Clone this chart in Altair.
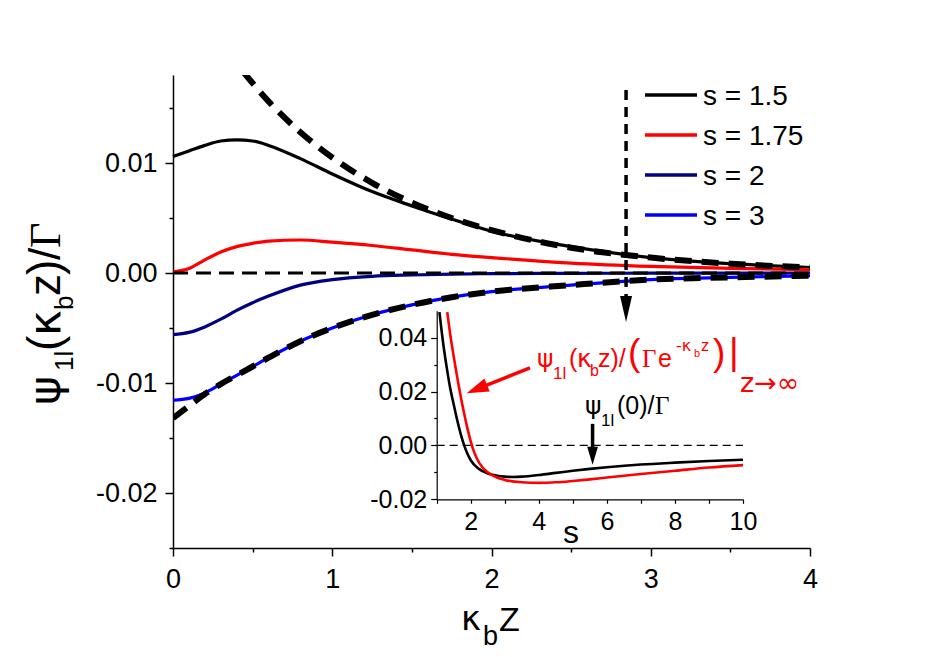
import altair as alt
import pandas as pd

# ---------------- main panel data ----------------
X_MAIN = [0, 0.1, 0.2, 0.3, 0.4, 0.5, 0.6, 0.8, 1.0, 1.25, 1.5, 1.75, 2.0, 2.5, 3.0, 3.5, 4.0]
Y_S150 = [0.0106, 0.0111, 0.0116, 0.0120, 0.0121, 0.0120, 0.0116, 0.0104, 0.0090, 0.0074, 0.0061, 0.0049, 0.0038, 0.0024, 0.0014, 0.00085, 0.0005]
Y_S175 = [0.0001, 0.0004, 0.0012, 0.0019, 0.0024, 0.0027, 0.0029, 0.0030, 0.0028, 0.0025, 0.0021, 0.0017, 0.0014, 0.0009, 0.0006, 0.00042, 0.0003]
Y_S200 = [-0.0056, -0.0054, -0.0049, -0.0042, -0.0034, -0.0027, -0.0021, -0.0011, -0.0006, -0.0003, -0.00018, -0.0001, -0.00006, -0.00003, -0.00002, -0.00001, 0.0]
Y_S300 = [-0.01157, -0.0114, -0.0109, -0.0101, -0.0093, -0.0085, -0.0077, -0.0062, -0.0050, -0.0038, -0.0029, -0.0022, -0.0017, -0.0011, -0.0006, -0.0004, -0.00025]
S_LABELS = ["s = 1.5", "s = 1.75", "s = 2", "s = 3"]
COLORS = ["#000000", "#ff0000", "#000080", "#0000ff"]

X_UPPER = [0.44, 0.6, 0.8, 1.0, 1.25, 1.5, 1.75, 2.0, 2.5, 3.0, 3.5, 4.0]
Y_UPPER = [0.0183, 0.0156, 0.0128, 0.0105, 0.0082, 0.0064, 0.0050, 0.0039, 0.0023, 0.0014, 0.00085, 0.0005]
X_LOWER = [0, 0.1, 0.2, 0.3, 0.4, 0.5, 0.6, 0.8, 1.0, 1.25, 1.5, 1.75, 2.0, 2.5, 3.0, 3.5, 4.0]
Y_LOWER = [-0.0132, -0.0121, -0.0110, -0.0101, -0.0093, -0.0085, -0.0077, -0.0062, -0.0050, -0.0038, -0.0029, -0.0022, -0.0017, -0.0011, -0.0006, -0.0004, -0.00025]
X_ZERO = [0, 4]
Y_ZERO = [0, 0]

X_TICKS = [0, 0.5, 1, 1.5, 2, 2.5, 3, 3.5, 4]
Y_TICKS = [-0.025, -0.02, -0.015, -0.01, -0.005, 0.0, 0.005, 0.01, 0.015]

# vertical arrow in the main panel
ARROW_X = [2.845]
ARROW_Y = [0.01664]
ARROW_Y2 = [-0.00218]
ARROW_HEAD_Y = [-0.00327]

# ---------------- inset data ----------------
S_BLACK = [1.08, 1.2, 1.3, 1.4, 1.5, 1.6, 1.7, 1.8, 1.9, 2.0, 2.25, 2.5, 2.75, 3.0, 3.25, 3.5, 4.0, 4.5, 5.0, 5.5, 6.0, 7.0, 8.0, 9.0, 10.0]
V_BLACK = [0.0495, 0.037, 0.0285, 0.021, 0.0152, 0.0095, 0.0045, 0.0003, -0.0030, -0.0055, -0.0088, -0.0104, -0.0112, -0.0116, -0.0117, -0.0116, -0.0110, -0.0102, -0.0094, -0.0087, -0.0081, -0.0071, -0.0064, -0.0058, -0.0053]
S_RED = [1.31, 1.4, 1.5, 1.6, 1.7, 1.8, 1.9, 2.0, 2.1, 2.25, 2.5, 2.75, 3.0, 3.5, 4.0, 4.5, 5.0, 5.5, 6.0, 7.0, 8.0, 9.0, 10.0]
V_RED = [0.0495, 0.041, 0.033, 0.0255, 0.0185, 0.0122, 0.0065, 0.0015, -0.0025, -0.0065, -0.0100, -0.0118, -0.0128, -0.0137, -0.0139, -0.0137, -0.0132, -0.0126, -0.0119, -0.0106, -0.0094, -0.0082, -0.0073]
S_ZERO = [1, 10]
V_ZERO = [0, 0]
INSET_X_TICKS = [1, 2, 3, 4, 5, 6, 7, 8, 9, 10]
INSET_Y_TICKS = [-0.02, -0.01, 0.0, 0.01, 0.02, 0.03, 0.04]

# inset arrows
BLK_ARROW = {"s": [5.58], "v": [0.0080], "v2": [-0.0023], "vh": [-0.0038]}
RED_ARROW = {"s": [3.74], "v": [0.0288], "s2": [2.27], "v2": [0.0214], "sh": [2.18], "vh": [0.0209]}

# ---------------- layout ----------------
W, H = 637, 473
OX, OY = 173, 75
SANS = "Liberation Sans"
GREEK = "DejaVu Sans"
SERIF = "Liberation Serif"

main_x_axis = alt.Axis(
    orient="bottom", values=X_TICKS, title=None, grid=False,
    labelExpr="datum.value % 1 == 0 ? format(datum.value, 'd') : ''",
    tickSize={"condition": {"test": "datum.value % 1 == 0", "value": 8}, "value": 4},
    labelFontSize=27, labelPadding=10, labelFlush=False, labelOverlap=False,
    domainWidth=1.5, tickWidth=1.5,
)
main_y_axis = alt.Axis(
    orient="left", values=Y_TICKS, title=None, grid=False,
    labelExpr="abs(round(datum.value*200)) % 2 == 0 ? (datum.value < -0.0001 ? '-' + format(-datum.value, '.2f') : format(abs(datum.value), '.2f')) : ''",
    tickSize={"condition": {"test": "abs(round(datum.value*200)) % 2 == 0", "value": 8}, "value": 4},
    labelFontSize=27, labelPadding=8, labelFlush=False, labelOverlap=False,
    domainWidth=1.5, tickWidth=1.5,
)
xm = alt.X("x:Q", scale=alt.Scale(domain=[0, 4], nice=False, zero=False), axis=main_x_axis)
ym = alt.Y("y:Q", scale=alt.Scale(domain=[-0.025, 0.018], nice=False, zero=False), axis=main_y_axis)

inset_x_axis = alt.Axis(
    orient="bottom", offset=-48.7, values=INSET_X_TICKS, title=None, grid=False,
    labelExpr="datum.value % 2 == 0 ? format(datum.value, 'd') : ''",
    tickSize=4, labelFontSize=25, labelPadding=6, labelFlush=False, labelOverlap=False,
    domainWidth=1.2, tickWidth=1.2,
)
inset_y_axis = alt.Axis(
    orient="left", offset=-263.7, values=INSET_Y_TICKS, title=None, grid=False,
    labelExpr="abs(round(datum.value*100)) % 2 == 0 ? (datum.value < -0.0001 ? '-' + format(-datum.value, '.2f') : format(abs(datum.value), '.2f')) : ''",
    tickSize={"condition": {"test": "abs(round(datum.value*100)) % 2 == 0", "value": 6}, "value": 3},
    labelFontSize=25, labelPadding=4, labelFlush=False, labelOverlap=False,
    domainWidth=1.2, tickWidth=1.2,
)
xi = alt.X("s:Q", scale=alt.Scale(domain=[1, 10], range=[263.7, 570], nice=False, zero=False), axis=inset_x_axis)
yi = alt.Y("v:Q", scale=alt.Scale(domain=[-0.02, 0.05], range=[424.3, 235.7], nice=False, zero=False), axis=inset_y_axis)

# ---------------- main panel ----------------
rows = []
for lab, ys in zip(S_LABELS, [Y_S150, Y_S175, Y_S200, Y_S300]):
    for x, y in zip(X_MAIN, ys):
        rows.append({"x": x, "y": y, "series": lab})
df_main = pd.DataFrame(rows)

solid = alt.Chart(df_main).mark_line(strokeWidth=3.2, interpolate="monotone").encode(
    x=xm, y=ym,
    color=alt.Color("series:N", scale=alt.Scale(domain=S_LABELS, range=COLORS), legend=None),
    detail="series:N",
)

zero_line = alt.Chart(pd.DataFrame({"x": X_ZERO, "y": Y_ZERO})).mark_line(
    color="black", strokeWidth=2.8, strokeDash=[15, 8]).encode(x=xm, y=ym)
upper = alt.Chart(pd.DataFrame({"x": X_UPPER, "y": Y_UPPER})).mark_line(
    color="black", strokeWidth=6, strokeDash=[17, 10], interpolate="monotone", clip=True).encode(x=xm, y=ym)
lower = alt.Chart(pd.DataFrame({"x": X_LOWER, "y": Y_LOWER})).mark_line(
    color="black", strokeWidth=6, strokeDash=[17, 10], interpolate="monotone", clip=True).encode(x=xm, y=ym)

shaft = alt.Chart(pd.DataFrame({"x": ARROW_X, "y": ARROW_Y, "y2": ARROW_Y2})).mark_rule(
    color="black", strokeWidth=3.5, strokeDash=[10, 7]).encode(x=xm, y=ym, y2=alt.Y2("y2:Q"))
head = alt.Chart(pd.DataFrame({"x": ARROW_X, "y": ARROW_HEAD_Y})).mark_point(
    shape="M-0.46,-1L0.46,-1L0,1Z", size=676, filled=True, color="black", opacity=1, strokeWidth=0
).encode(x=xm, y=ym)

dummy = alt.Data(values=[{"k": 0}])


def piece(t, px, py, size, font=SANS, color="black", angle=0):
    kw = dict(text=t, fontSize=size, font=font, color=color, align="left", baseline="alphabetic")
    if angle:
        kw["angle"] = angle
    return alt.Chart(dummy).mark_text(**kw).encode(x=alt.value(px - OX), y=alt.value(py - OY))


# legend (drawn from the series labels and colours)
legend_layers = []
for i, (lab, col) in enumerate(zip(S_LABELS, COLORS)):
    yrow = 95 + 40 * i
    legend_layers.append(
        alt.Chart(dummy).mark_rule(color=col, strokeWidth=3.5).encode(
            x=alt.value(645 - OX), x2=alt.value(697 - OX), y=alt.value(yrow - OY))
    )
    legend_layers.append(piece(lab, 703, yrow + 10, 28))

texts = [
    # y title (rotated)
    piece("ψ", 60, 405, 44, GREEK, angle=270),
    piece("1l", 73, 371, 26, angle=270),
    piece("(", 60, 351, 46, angle=270),
    piece("κ", 60, 336, 44, GREEK, angle=270),
    piece("b", 73, 310, 26, angle=270),
    piece("z", 60, 296, 44, angle=270),
    piece(")", 60, 275, 46, angle=270),
    piece("/", 60, 260, 44, angle=270),
    piece("Γ", 60, 248, 44, SERIF, angle=270),
    # x title
    piece("κ", 461, 630, 34, GREEK),
    piece("b", 483, 645, 27),
    piece("Z", 499, 631, 34),
    # inset x title
    piece("s", 563, 543, 32),
    # red annotation
    piece("ψ", 537, 367, 25, GREEK, "#ff0000"),
    piece("1l", 553, 379, 17, SANS, "#ff0000"),
    piece("(", 569, 367, 25, SANS, "#ff0000"),
    piece("κ", 577, 367, 25, GREEK, "#ff0000"),
    piece("b", 590, 376, 16, SANS, "#ff0000"),
    piece("z)/", 598, 367, 25, SANS, "#ff0000"),
    piece("(", 628, 365, 37, SANS, "#ff0000"),
    piece("Γ", 642, 367, 25, SERIF, "#ff0000"),
    piece("e", 658, 367, 25, SANS, "#ff0000"),
    piece("-κ", 676, 351, 16, GREEK, "#ff0000"),
    piece("b", 694, 357, 11, SANS, "#ff0000"),
    piece("z", 701, 351, 16, SANS, "#ff0000"),
    piece(")", 713, 365, 37, SANS, "#ff0000"),
    piece("|", 729, 364, 37, SANS, "#ff0000"),
    piece("z→∞", 740, 392, 27, GREEK, "#ff0000"),
    # black annotation
    piece("ψ", 585, 414, 25, GREEK),
    piece("1l", 601, 426, 17),
    piece("(0)/", 617, 414, 25),
    piece("Γ", 655, 414, 25, SERIF),
]

main = alt.layer(solid, zero_line, upper, lower, shaft, head, *legend_layers, *texts)

# ---------------- inset ----------------
inset_zero = alt.Chart(pd.DataFrame({"s": S_ZERO, "v": V_ZERO})).mark_line(
    color="black", strokeWidth=1.3, strokeDash=[8, 5]).encode(x=xi, y=yi)
inset_black = alt.Chart(pd.DataFrame({"s": S_BLACK, "v": V_BLACK})).mark_line(
    color="black", strokeWidth=2.6, interpolate="monotone").encode(x=xi, y=yi)
inset_red = alt.Chart(pd.DataFrame({"s": S_RED, "v": V_RED})).mark_line(
    color="#ff0000", strokeWidth=2.6, interpolate="monotone").encode(x=xi, y=yi)
blk_shaft = alt.Chart(pd.DataFrame({"s": BLK_ARROW["s"], "v": BLK_ARROW["v"], "v2": BLK_ARROW["v2"]})).mark_rule(
    color="black", strokeWidth=3.5).encode(x=xi, y=yi, y2=alt.Y2("v2:Q"))
blk_head = alt.Chart(pd.DataFrame({"s": BLK_ARROW["s"], "v": BLK_ARROW["vh"]})).mark_point(
    shape="M-0.6,-1L0.6,-1L0,1Z", size=324, filled=True, color="black", opacity=1, strokeWidth=0
).encode(x=xi, y=yi)
red_shaft = alt.Chart(pd.DataFrame({"s": RED_ARROW["s"], "v": RED_ARROW["v"],
                                    "s2": RED_ARROW["s2"], "v2": RED_ARROW["v2"]})).mark_rule(
    color="#ff0000", strokeWidth=3.5).encode(x=xi, y=yi, x2=alt.X2("s2:Q"), y2=alt.Y2("v2:Q"))
red_head = alt.Chart(pd.DataFrame({"s": RED_ARROW["sh"], "v": RED_ARROW["vh"]})).mark_point(
    shape="M0,-1L0.64,1L-0.64,1Z", size=484, angle=248, filled=True, color="#ff0000", opacity=1, strokeWidth=0
).encode(x=xi, y=yi)

inset = alt.layer(inset_zero, inset_black, inset_red, blk_shaft, blk_head, red_shaft, red_head)

chart = alt.layer(main, inset).resolve_scale(x="independent", y="independent").properties(
    width=W, height=H,
    autosize=alt.AutoSizeParams(type="none"),
    padding={"left": 165, "top": 67, "right": 100, "bottom": 106},
).configure_view(strokeWidth=0).configure_axis(
    labelFont=SANS, labelColor="black", tickColor="black", domainColor="black", grid=False
)

chart.save("out.html", embed_options={"renderer": "svg", "actions": False})
